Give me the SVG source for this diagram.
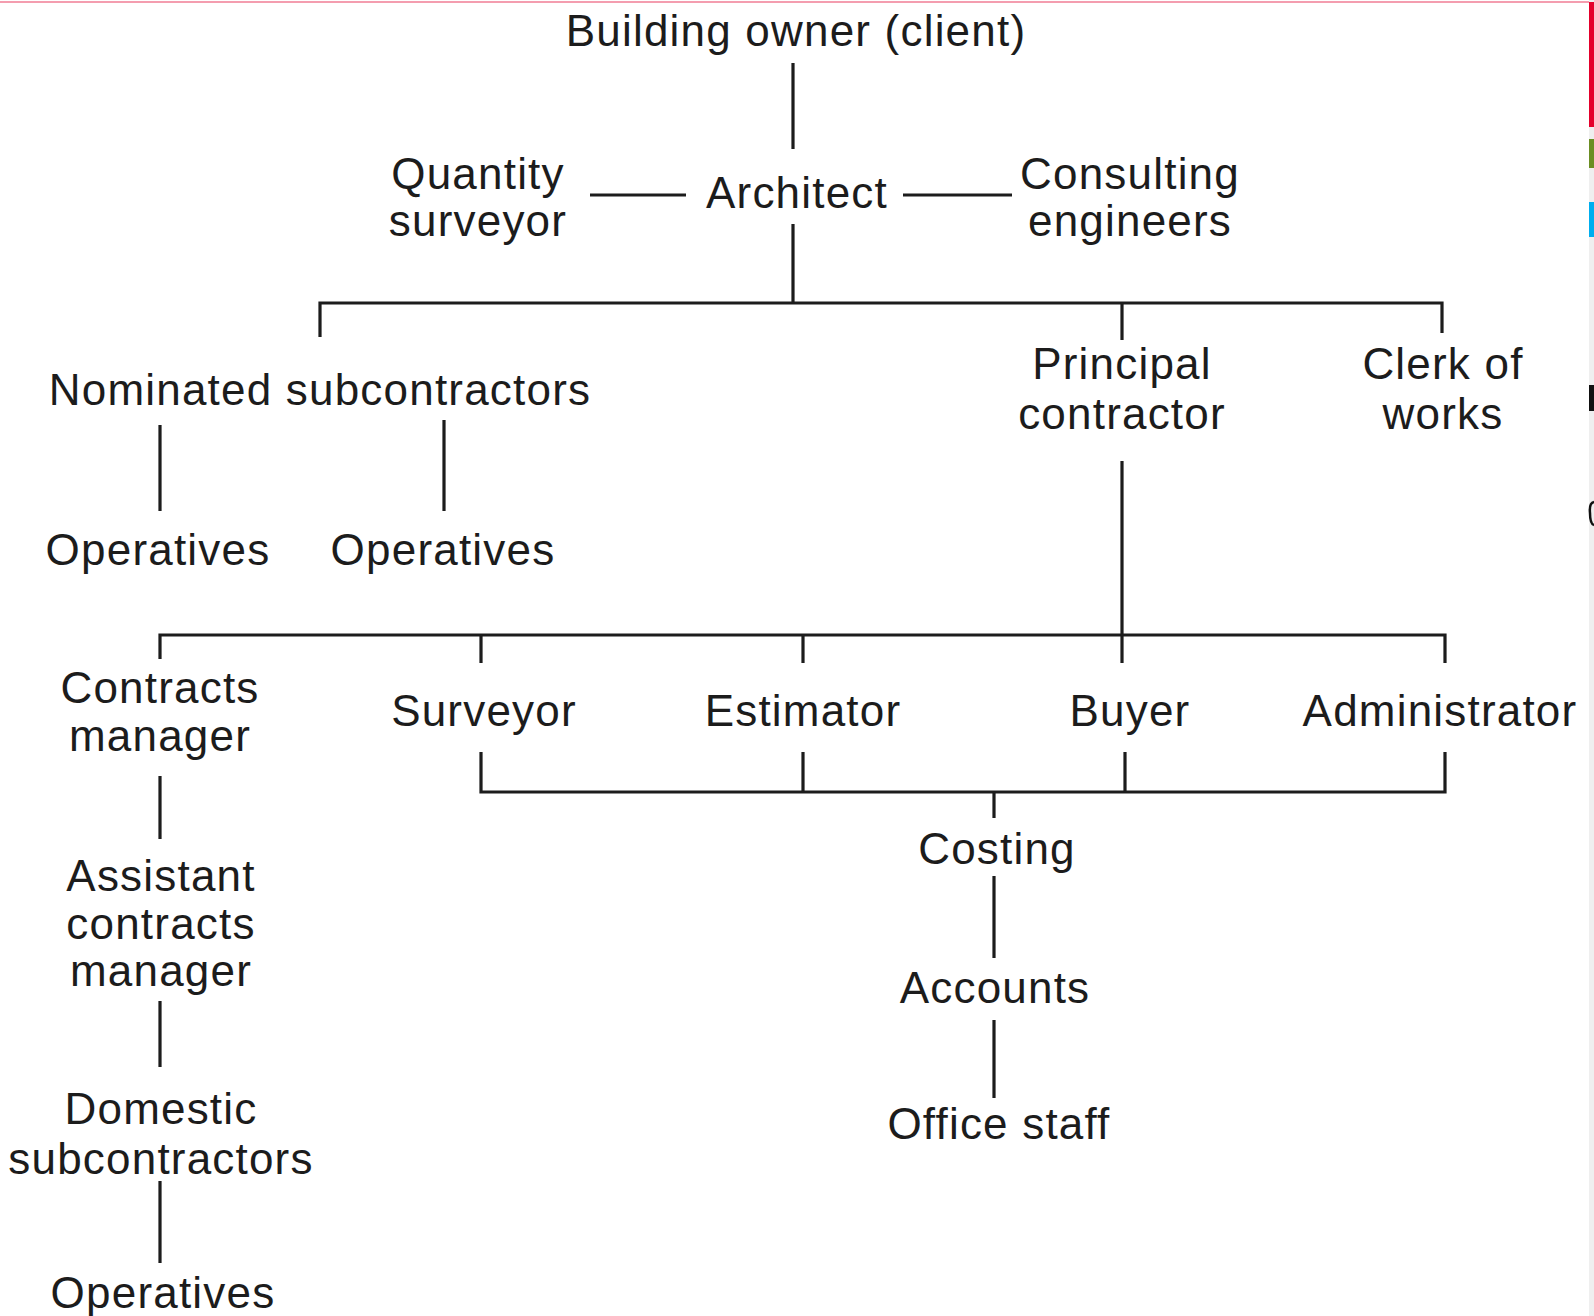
<svg xmlns="http://www.w3.org/2000/svg" width="1594" height="1316" viewBox="0 0 1594 1316">
<style>
text{font-family:"Liberation Sans",Arial,sans-serif;font-size:44px;letter-spacing:1.2px;fill:#1c1c1c;text-anchor:middle}
.c{fill:none;stroke:#1c1c1c;stroke-width:3.2}
</style>
<rect width="1594" height="1316" fill="#ffffff"/>
<line x1="0" y1="2" x2="1589" y2="2" stroke="#f07c94" stroke-width="1.6"/>
<g id="edge-strip">
<rect x="1589" y="0" width="5" height="1316" fill="#efefef"/>
<rect x="1589" y="2" width="5" height="125" fill="#e4002b"/>
<rect x="1589" y="139" width="5" height="29" fill="#6b8e23"/>
<rect x="1589" y="202" width="5" height="35" fill="#00aeef"/>
<rect x="1589" y="385" width="5" height="26" fill="#111111"/>
<path d="M1594 502 Q1589 503 1590 513 Q1590 524 1594 525" fill="none" stroke="#111" stroke-width="2.5"/>
</g>
<g id="connectors">
<path class="c" d="M793 63V149"/>
<path class="c" d="M590 195H686"/>
<path class="c" d="M903 195H1012"/>
<path class="c" d="M793 224V303"/>
<path class="c" d="M320 337V303H1442V333"/>
<path class="c" d="M1122 303V340"/>
<path class="c" d="M160 425V511"/>
<path class="c" d="M444 420V511"/>
<path class="c" d="M1122 461V635"/>
<path class="c" d="M160 659V635H1445V663"/>
<path class="c" d="M481 635V663"/>
<path class="c" d="M803 635V663"/>
<path class="c" d="M1122 635V663"/>
<path class="c" d="M160 776V839"/>
<path class="c" d="M481 752V792H1445V752"/>
<path class="c" d="M803 752V792"/>
<path class="c" d="M1125 752V792"/>
<path class="c" d="M994 792V818"/>
<path class="c" d="M994 876V958"/>
<path class="c" d="M994 1020V1098"/>
<path class="c" d="M160 1001V1067"/>
<path class="c" d="M160 1181V1263"/>
</g>
<g id="client"><text x="796" y="46">Building owner (client)</text></g>
<g id="quantity-surveyor"><text x="478" y="189">Quantity</text><text x="478" y="236">surveyor</text></g>
<g id="architect"><text x="797" y="208">Architect</text></g>
<g id="consulting-engineers"><text x="1130" y="189">Consulting</text><text x="1130" y="236">engineers</text></g>
<g id="nominated-subcontractors"><text x="320" y="405">Nominated subcontractors</text></g>
<g id="principal-contractor"><text x="1122" y="379">Principal</text><text x="1122" y="429">contractor</text></g>
<g id="clerk-of-works"><text x="1443" y="379">Clerk of</text><text x="1443" y="429">works</text></g>
<g id="operatives-1"><text x="158" y="565">Operatives</text></g>
<g id="operatives-2"><text x="443" y="565">Operatives</text></g>
<g id="contracts-manager"><text x="160" y="703">Contracts</text><text x="160" y="751">manager</text></g>
<g id="surveyor"><text x="484" y="726">Surveyor</text></g>
<g id="estimator"><text x="803" y="726">Estimator</text></g>
<g id="buyer"><text x="1130" y="726">Buyer</text></g>
<g id="administrator"><text x="1440" y="726">Administrator</text></g>
<g id="costing"><text x="997" y="864">Costing</text></g>
<g id="accounts"><text x="995" y="1003">Accounts</text></g>
<g id="office-staff"><text x="999" y="1139">Office staff</text></g>
<g id="assistant-contracts-manager"><text x="161" y="891">Assistant</text><text x="161" y="939">contracts</text><text x="161" y="986">manager</text></g>
<g id="domestic-subcontractors"><text x="161" y="1124">Domestic</text><text x="161" y="1174">subcontractors</text></g>
<g id="operatives-3"><text x="163" y="1308">Operatives</text></g>
</svg>
